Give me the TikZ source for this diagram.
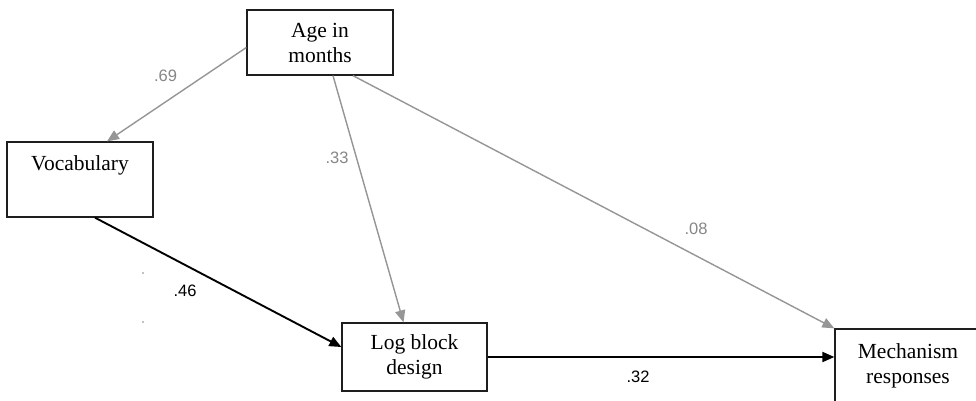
\documentclass[tikz,border=0pt]{standalone}
\usepackage{fontspec}
\setmainfont{Liberation Serif}
\newfontfamily\lblfont{Liberation Sans}
\usetikzlibrary{arrows.meta}
\definecolor{grayline}{RGB}{150,150,150}
\definecolor{graylbl}{RGB}{135,135,135}
\definecolor{boxline}{RGB}{30,30,30}
\tikzset{
  varbox/.style={draw=boxline, line width=1.3pt, fill=white, inner sep=0pt, align=center,
    font=\fontsize{21.5}{25}\selectfont},
  boxtext/.style={inner sep=0pt, align=center, font=\fontsize{21.5}{25}\selectfont},
  grayarrow/.style={draw=grayline, line width=1.4pt, -{Triangle[length=12pt,width=10pt]}},
  blackarrow/.style={draw=black, line width=1.9pt, -{Triangle[length=12pt,width=10pt]}},
  graylabel/.style={text=graylbl, inner sep=0pt, font=\lblfont\fontsize{16.5}{16.5}\selectfont},
  blacklabel/.style={text=black, inner sep=0pt, font=\lblfont\fontsize{16.5}{16.5}\selectfont},
}
\begin{document}
\begin{tikzpicture}[x=1pt,y=-1pt]
\useasboundingbox (0,0) rectangle (976,400);
\fill[white] (0,0) rectangle (976,400);
% nodes
\node[varbox, minimum width=146pt, minimum height=65pt] (age) at (320,42.5) {Age in\\months};
\node[varbox, minimum width=146pt, minimum height=75pt] (voc) at (80,179.5) {};
\node[boxtext] (voctext) at (80,165) {Vocabulary};
\node[varbox, minimum width=145pt, minimum height=68pt] (log) at (414.5,357) {Log block\\design};
\node[varbox, minimum width=146pt, minimum height=74pt] (mech) at (908,366) {Mechanism\\responses};
% connectors
\draw[grayarrow] ([yshift=-5pt]age.west) -- ([xshift=27pt]voc.north);
\draw[grayarrow] ([xshift=13pt]age.south) -- ([xshift=-11pt]log.north);
\draw[grayarrow] ([xshift=33pt]age.south) -- (mech.north west);
\draw[blackarrow] ([xshift=15pt]voc.south) -- ([yshift=10pt]log.west);
\draw[blackarrow] (log.east) -- (log.east -| mech.west);
% labels
\node[graylabel] (l69) at (165.5,76) {.69};
\node[graylabel] (l33) at (337,158) {.33};
\node[graylabel] (l08) at (696,229) {.08};
\node[blacklabel] (l46) at (185,291) {.46};
\node[blacklabel] (l32) at (638,377) {.32};
% tiny dots
\fill[graylbl] (143,273) circle (0.8);
\fill[graylbl] (143,322) circle (0.8);
\end{tikzpicture}
\end{document}
